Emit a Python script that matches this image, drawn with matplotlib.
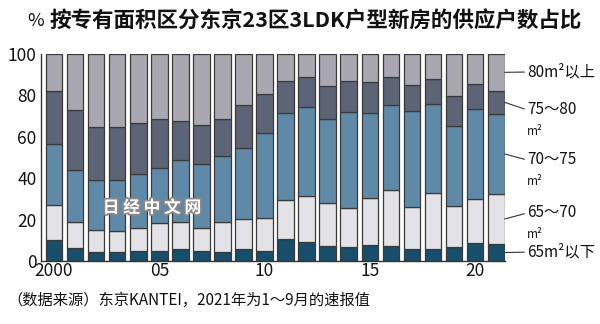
import numpy as np
import matplotlib
matplotlib.use("Agg")
import matplotlib.pyplot as plt
import matplotlib.patheffects as pe

plt.rcParams['font.family'] = ['Noto Sans CJK SC', 'DejaVu Sans']

years = list(range(2000, 2022))
tick_years = [2000, 2005, 2010, 2015, 2020]
tick_labels = ["2000", "05", "10", "15", "20"]

# share of supply (%) by floor area, bottom -> top
under65 = [10.1, 6.1, 4.5, 4.5, 4.8, 4.8, 5.6, 5.0, 4.5, 5.6, 5.0,
           10.6, 9.0, 7.4, 6.9, 7.9, 7.4, 6.0, 5.8, 6.9, 8.9, 8.2]
a65_70 = [16.9, 12.9, 10.5, 9.8, 11.3, 13.7, 13.4, 10.8, 14.5, 14.5, 15.6,
          18.9, 22.2, 20.6, 18.5, 22.4, 27.1, 20.2, 27.2, 19.7, 20.9, 24.2]
a70_75 = [29.7, 25.1, 24.0, 25.0, 26.1, 26.3, 29.8, 30.9, 31.9, 34.7, 41.1,
          41.8, 43.4, 40.8, 46.7, 41.4, 40.9, 46.4, 42.8, 38.5, 43.8, 38.6]
a75_80 = [25.6, 28.7, 25.7, 25.3, 24.6, 24.0, 18.7, 19.2, 17.9, 20.4, 18.8,
          15.8, 14.4, 15.7, 14.9, 14.9, 13.5, 12.4, 12.1, 14.8, 12.1, 11.3]
over80 = [17.7, 27.2, 35.3, 35.4, 33.2, 31.2, 32.5, 34.1, 31.2, 24.8, 19.5,
          12.9, 11.0, 15.5, 13.0, 13.4, 11.1, 15.0, 12.1, 20.1, 14.3, 17.7]

series = [under65, a65_70, a70_75, a75_80, over80]
colors = ["#184e6b", "#e3e2e7", "#5f89a7", "#5d6475", "#a9a8b1"]
labels = ["65m²以下", "65～70", "70～75", "75～80", "80m²以上"]
two_line = [False, True, True, True, False]
# where each label sits (data y)
label_y = [4.3, 23.2, 48.8, 73.0, 91.3]

fig = plt.figure(figsize=(6, 3.24), dpi=100)
ax = fig.add_axes([0.0678, 0.1944, 0.774, 0.6389])

x = np.arange(len(years))
bottom = np.zeros(len(years))
for vals, c in zip(series, colors):
    v = np.array(vals)
    ax.bar(x, v, width=0.79, bottom=bottom, color=c, edgecolor="#3a3a3a",
           linewidth=0.9, zorder=2)
    bottom += v

ax.set_xlim(-0.63, 21.42)
ax.set_ylim(0, 100)
ax.set_yticks(range(0, 101, 20))
ax.set_xticks([years.index(y) for y in tick_years])
ax.set_xticklabels(tick_labels)
ax.tick_params(axis="both", length=0, labelsize=12.5, colors="#111111")
ax.tick_params(axis="y", pad=3)
ax.tick_params(axis="x", pad=1)
for s in ["top", "right"]:
    ax.spines[s].set_visible(False)
for s in ["left", "bottom"]:
    ax.spines[s].set_color("#333333")
    ax.spines[s].set_linewidth(1.0)

# leader lines + labels for the last bar
last = len(years) - 1
cum = 0
for vals, lab, ly, tl in zip(series, labels, label_y, two_line):
    mid = cum + vals[last] / 2
    cum += vals[last]
    ax.annotate(lab, xy=(last + 0.4, mid), xytext=(22.47, ly),
                ha="left", va="center", fontsize=11, color="#111111",
                annotation_clip=False,
                arrowprops=dict(arrowstyle="-", lw=0.8, color="#333333",
                                shrinkA=0, shrinkB=0, relpos=(0, 0.5)))
    if tl:
        ax.text(22.47, ly - 10.6, "m²", ha="left", va="center", fontsize=8.5,
                color="#111111", clip_on=False)

fig.text(0.045, 0.935, "%", fontsize=13, ha="left", va="center", color="#111111")
fig.text(0.082, 0.935, "按专有面积区分东京23区3LDK户型新房的供应户数占比",
         fontsize=15.5, fontweight="bold", ha="left", va="center", color="#111111")
fig.text(0.013, 0.074, "（数据来源）东京KANTEI，2021年为1～9月的速报值",
         fontsize=11, ha="left", va="center", color="#111111")

fig.text(0.253, 0.359, "日 经 中 文 网", fontsize=12, fontweight="bold",
         ha="center", va="center", color="white", zorder=5,
         path_effects=[pe.withStroke(linewidth=2.5, foreground="#8a8a8a")])

fig.savefig("out.png", dpi=100)
